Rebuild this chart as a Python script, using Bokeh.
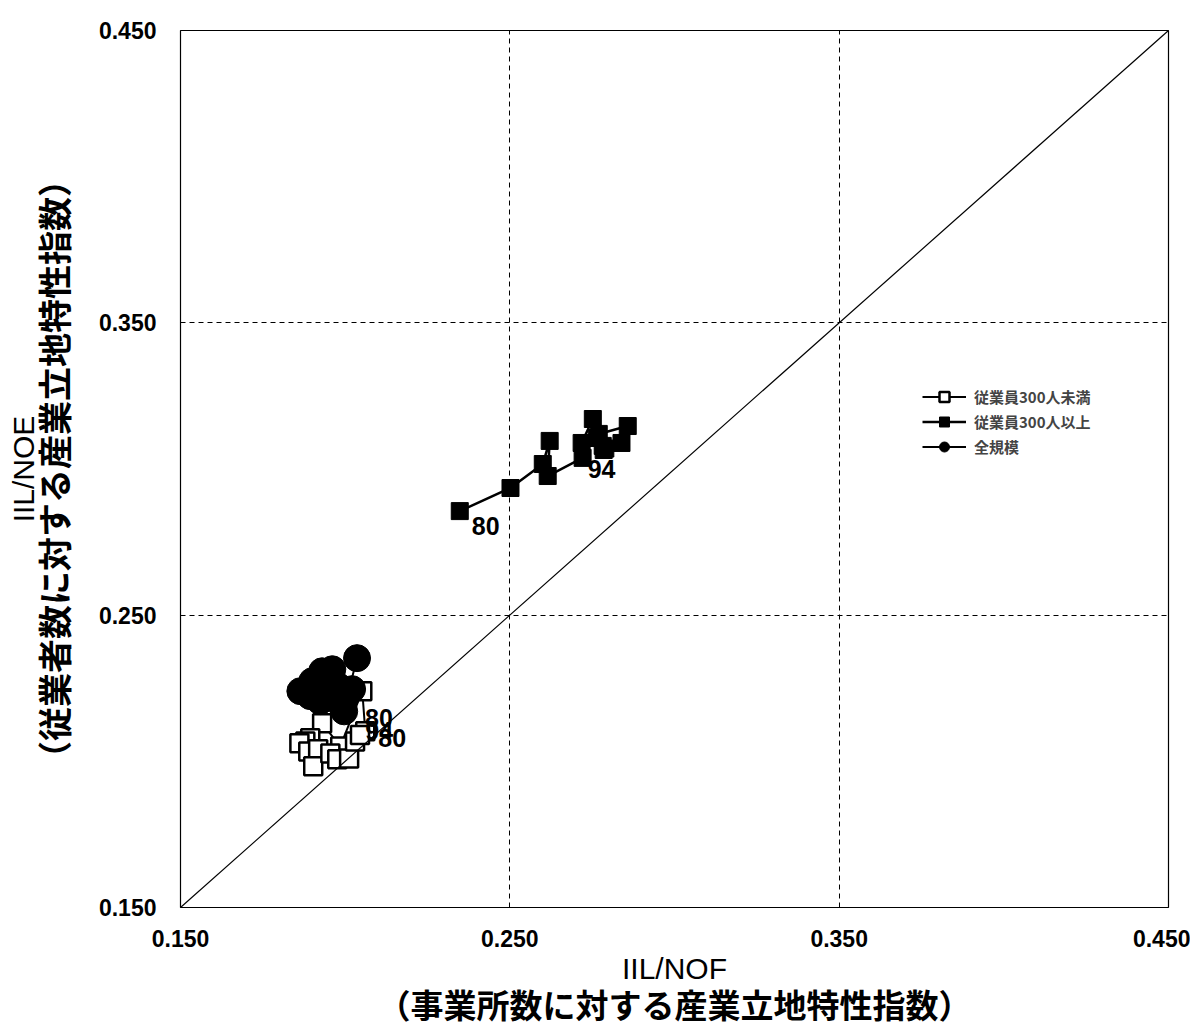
from bokeh.plotting import figure
from bokeh.models import (Range1d, FixedTicker, NumeralTickFormatter, Legend,
                          LegendItem, Label, Slope, LinearAxis)
from bokeh.embed import file_html
from bokeh.resources import INLINE

years = list(range(1980, 1995))

# 従業員300人以上 (filled squares)
large_x = [0.2348, 0.2502, 0.2600, 0.2621, 0.2615, 0.2721, 0.2718, 0.2752,
           0.2764, 0.2770, 0.2858, 0.2839, 0.2782, 0.2790, 0.2785]
large_y = [0.2856, 0.2935, 0.3017, 0.3096, 0.2976, 0.3038, 0.3089, 0.3171,
           0.3106, 0.3120, 0.3147, 0.3089, 0.3079, 0.3070, 0.3065]

# 従業員300人未満 (open squares)
small_x = [0.2061, 0.2052, 0.1985, 0.1930, 0.1894, 0.1879, 0.1861, 0.1888,
           0.1918, 0.1903, 0.1955, 0.1976, 0.2012, 0.2030, 0.2045]
small_y = [0.2103, 0.2240, 0.2051, 0.2130, 0.2079, 0.2068, 0.2062, 0.2034,
           0.2041, 0.1983, 0.2027, 0.2007, 0.2010, 0.2068, 0.2090]

# 全規模 (filled circles)
all_x = [0.2036, 0.2009, 0.1979, 0.1961, 0.1930, 0.1900, 0.1864, 0.1894,
         0.1939, 0.1924, 0.1909, 0.1955, 0.2021, 0.1997, 0.1990]
all_y = [0.2353, 0.2233, 0.2257, 0.2315, 0.2308, 0.2274, 0.2240, 0.2223,
         0.2240, 0.2206, 0.2257, 0.2274, 0.2247, 0.2171, 0.2190]

ticks = [0.15, 0.25, 0.35, 0.45]
grid_ticks = [0.25, 0.35]

JP = "Noto Sans CJK JP"
LAT = "Liberation Sans"

p = figure(frame_width=988, frame_height=877, output_backend="svg",
           toolbar_location=None,
           x_range=Range1d(0.15, 0.45), y_range=Range1d(0.15, 0.45),
           min_border_left=180, min_border_right=22, min_border_top=30,
           min_border_bottom=118, background_fill_color="white",
           border_fill_color="white")

p.outline_line_color = "black"
p.outline_line_width = 1.2

for ax in (p.xaxis[0], p.yaxis[0]):
    ax.ticker = FixedTicker(ticks=ticks)
    ax.formatter = NumeralTickFormatter(format="0.000")
    ax.major_tick_line_color = None
    ax.minor_tick_line_color = None
    ax.major_tick_out = 0
    ax.major_tick_in = 0
    ax.axis_line_color = None
    ax.major_label_text_font = LAT
    ax.major_label_text_font_style = "bold"
    ax.major_label_text_font_size = "23px"
    ax.major_label_text_color = "black"
    ax.axis_label_text_color = "black"

p.xaxis.major_label_standoff = 22
p.yaxis.major_label_standoff = 24

# main axis carries one line of each title
p.xaxis.axis_label = "IIL/NOF"
p.xaxis.axis_label_text_font = LAT
p.xaxis.axis_label_text_font_style = "normal"
p.xaxis.axis_label_text_font_size = "30px"
p.xaxis.axis_label_standoff = 2

p.yaxis.axis_label = "（従業者数に対する産業立地特性指数）"
p.yaxis.axis_label_text_font = JP
p.yaxis.axis_label_text_font_style = "bold"
p.yaxis.axis_label_text_font_size = "34px"
p.yaxis.axis_label_standoff = 18


def label_axis(text, font, size, style, standoff):
    return LinearAxis(ticker=FixedTicker(ticks=[]), axis_label=text,
                      axis_line_color=None, major_tick_line_color=None,
                      minor_tick_line_color=None,
                      major_label_text_font_size="0px",
                      major_label_standoff=0, major_tick_out=0,
                      major_tick_in=0, axis_label_standoff=standoff,
                      axis_label_text_font=font,
                      axis_label_text_font_size=size,
                      axis_label_text_font_style=style,
                      axis_label_text_color="black")


p.add_layout(label_axis("（事業所数に対する産業立地特性指数）", JP, "33px", "bold", -8), "below")
p.add_layout(label_axis("IIL/NOE", LAT, "30px", "normal", -14), "left")

p.xgrid.ticker = FixedTicker(ticks=grid_ticks)
p.ygrid.ticker = FixedTicker(ticks=grid_ticks)
for g in (p.xgrid[0], p.ygrid[0]):
    g.grid_line_color = "black"
    g.grid_line_dash = "5 4"
    g.grid_line_width = 1

p.add_layout(Slope(gradient=1, y_intercept=0, line_color="black", line_width=1.2))

# series
sl = p.line(small_x, small_y, line_color="black", line_width=2)
ss = p.scatter(small_x, small_y, marker="square", size=18, fill_color="white",
               line_color="black", line_width=2.5)
ll = p.line(large_x, large_y, line_color="black", line_width=2.5)
ls = p.scatter(large_x, large_y, marker="square", size=17, fill_color="black",
               line_color="black")
al = p.line(all_x, all_y, line_color="black", line_width=2)
ac = p.scatter(all_x, all_y, marker="circle", size=27, fill_color="black",
               line_color="black")

legend = Legend(items=[
    LegendItem(label="従業員300人未満", renderers=[sl, ss]),
    LegendItem(label="従業員300人以上", renderers=[ll, ls]),
    LegendItem(label="全規模", renderers=[al, ac]),
], location=(742, 448))
legend.label_text_font = JP
legend.label_text_font_style = "bold"
legend.label_text_font_size = "15px"
legend.border_line_color = None
legend.background_fill_alpha = 0
legend.glyph_width = 44
legend.glyph_height = 25
legend.spacing = 0
legend.padding = 5
legend.label_standoff = 8
p.add_layout(legend)


def lab(x, y, t, dx, dy):
    p.add_layout(Label(x=x, y=y, text=t, x_offset=dx, y_offset=dy,
                       text_font=LAT, text_font_style="bold",
                       text_font_size="25px", text_color="black",
                       text_baseline="middle"))


lab(large_x[0], large_y[0], "80", 12, -15)
lab(large_x[-1], large_y[-1], "94", -16, -19)
lab(small_x[0], small_y[0], "94", 0, 0)
lab(all_x[0], all_y[0], "80", 8, -60)
lab(small_x[0], small_y[0], "80", 13, -7)

open("out.html", "w").write(file_html(p, INLINE))
